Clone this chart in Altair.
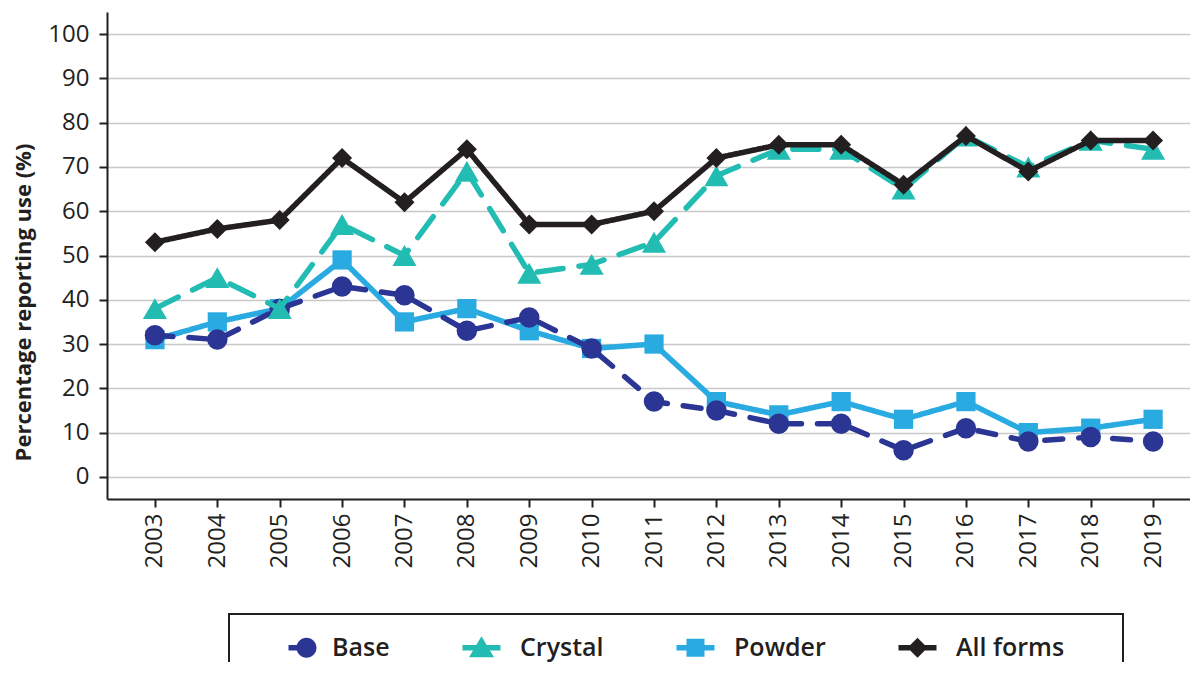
import altair as alt
import pandas as pd

years = [str(y) for y in range(2003, 2020)]
series = ["Base", "Crystal", "Powder", "All forms"]
base = [32, 31, 38, 43, 41, 33, 36, 29, 17, 15, 12, 12, 6, 11, 8, 9, 8]
crystal = [38, 45, 38, 57, 50, 69, 46, 48, 53, 68, 74, 74, 65, 77, 70, 76, 74]
powder = [31, 35, 38, 49, 35, 38, 33, 29, 30, 17, 14, 17, 13, 17, 10, 11, 13]
all_forms = [53, 56, 58, 72, 62, 74, 57, 57, 60, 72, 75, 75, 66, 77, 69, 76, 76]
y_ticks = list(range(0, 101, 10))

colors = ["#2B3593", "#22BCB2", "#29ABE2", "#231F20"]
dashes = [[18, 16], [26, 16], [1, 0], [1, 0]]
shapes = ["circle", "triangle-up", "square", "diamond"]
sizes = [420, 580, 370, 400]

# legend symbols: line + marker (unit coordinates)
circ_b = ("M1.3,-1 C1.8523,-1 2.3,-0.5523 2.3,0 C2.3,0.5523 1.8523,1 1.3,1 "
          "C0.7477,1 0.3,0.5523 0.3,0 C0.3,-0.5523 0.7477,-1 1.3,-1 Z")
line_full = "M-1.9,-0.27 H1.9 V0.27 H-1.9 Z "
legend_paths = [
    "M-0.5,-0.27 H0.8 V0.27 H-0.5 Z " + circ_b,
    line_full + "M0,-1.15 L1.25,0.95 L-1.25,0.95 Z",
    line_full + "M-0.9,-0.9 H0.9 V0.9 H-0.9 Z",
    line_full + "M0,-1 L1,0 L0,1 L-1,0 Z",
]

values = {"Base": base, "Crystal": crystal, "Powder": powder, "All forms": all_forms}
rows = []
for s in series:
    for yr, v in zip(years, values[s]):
        rows.append({"year": yr, "series": s, "value": v})
df = pd.DataFrame(rows)

FONT = "Open Sans"
TXT = "#231F20"

x_enc = alt.X(
    "year:O",
    scale=alt.Scale(type="point", padding=0.68, align=0.565),
    axis=alt.Axis(
        title=None, labelAngle=270, labelFontSize=24, labelFont=FONT,
        labelColor=TXT, labelPadding=6, tickSize=8, tickWidth=2,
        tickColor=TXT, domainColor=TXT, domainWidth=2, grid=False,
    ),
)
y_enc = alt.Y(
    "value:Q",
    scale=alt.Scale(domain=[-5, 105], nice=False, zero=False),
    axis=alt.Axis(
        values=y_ticks, title="Percentage reporting use (%)",
        titleFont=FONT, titleFontSize=22, titleFontWeight="bold",
        titleColor=TXT, titleX=-72, titleY=290,
        labelFontSize=24, labelFont=FONT, labelColor=TXT, labelPadding=10,
        tickSize=8, tickWidth=2, tickColor=TXT, domainColor=TXT,
        domainWidth=2, grid=True, gridColor="#C8C8C8", gridWidth=1.5,
    ),
)

layers = []
order = ["Powder", "Base", "Crystal", "All forms"]
for s in order:
    i = series.index(s)
    d = df[df["series"] == s]
    ln = alt.Chart(d).mark_line(
        color=colors[i], strokeWidth=5.5, strokeDash=dashes[i], strokeCap="round"
    ).encode(x=x_enc, y=y_enc)
    pt = alt.Chart(d).mark_point(
        color=colors[i], filled=True, opacity=1, shape=shapes[i], size=sizes[i]
    ).encode(x=x_enc, y=y_enc)
    layers += [ln, pt]

legend_kw = dict(
    title=" ", titleOrient="right", titlePadding=38, titleFontSize=25,
    orient="none", legendX=122, legendY=602,
    direction="horizontal", columns=4, symbolSize=400,
    symbolOpacity=1, symbolStrokeWidth=0, labelOffset=26,
    symbolOffset=31, columnPadding=48, padding=21,
    labelFont=FONT, labelFontSize=25, labelFontWeight=600,
    labelColor=TXT, strokeColor=TXT,
)

legend_layer = alt.Chart(df).mark_point(filled=True, opacity=0).encode(
    x=x_enc,
    y=y_enc,
    color=alt.Color(
        "series:N",
        scale=alt.Scale(domain=series, range=colors),
        legend=alt.Legend(**legend_kw),
    ),
    shape=alt.Shape(
        "series:N",
        scale=alt.Scale(domain=series, range=legend_paths),
        legend=alt.Legend(**legend_kw),
    ),
)

chart = alt.layer(*layers, legend_layer).properties(
    width=1083, height=487,
    autosize=alt.AutoSizeParams(type="none"),
    padding={"left": 99, "top": 4, "right": 0, "bottom": 163},
).configure_view(stroke=None).configure_legend(strokeWidth=2)

chart.save("out.html", embed_options={"renderer": "svg", "actions": False})
